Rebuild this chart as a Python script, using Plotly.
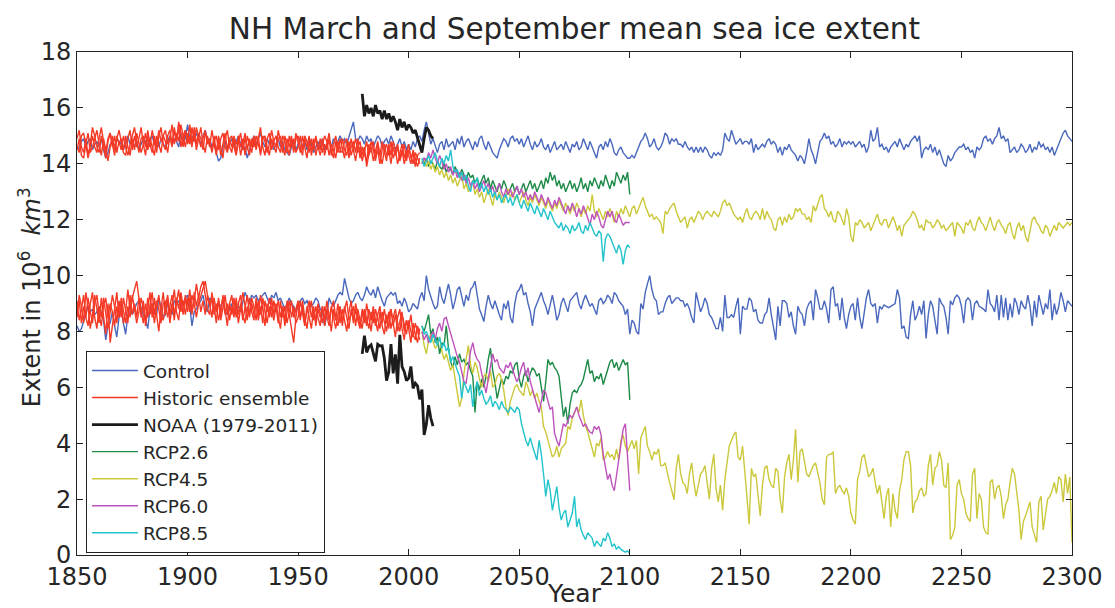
import plotly.graph_objects as go

# ---------------- data ----------------
control_start = 1850
control_march = [
 14.5,14.6,14.8,14.9,14.6,14.8,14.9,14.5,14.7,14.8,
 14.6,14.9,14.5,14.2,14.4,14.7,14.8,14.6,14.9,14.8,
 14.7,14.5,14.8,15.0,14.7,14.9,14.6,14.8,14.5,14.7,
 14.9,14.8,14.6,14.9,15.0,14.7,14.8,14.6,14.9,14.7,
 14.6,14.8,15.0,14.7,14.9,14.8,14.6,15.1,14.8,14.9,
 15.4,14.9,15.0,14.8,15.1,14.9,14.7,15.0,15.2,14.8,
 14.9,14.6,14.7,14.4,14.1,14.2,14.6,14.8,14.5,14.7,
 14.9,14.6,14.8,15.0,14.7,14.5,14.6,14.2,14.5,14.8,
 15.0,14.7,14.9,15.1,14.8,14.6,14.9,14.7,14.8,14.5,
 14.7,14.9,14.6,14.8,14.5,14.4,14.3,14.6,14.8,14.5,
 14.7,14.9,14.6,14.8,14.5,14.9,14.7,14.4,14.6,14.8,
 14.6,14.9,14.5,14.7,14.8,14.6,14.9,14.7,14.8,15.0,
 14.8,14.9,14.7,15.0,15.2,15.5,14.9,14.8,15.0,14.9,
 14.7,15.0,14.8,14.9,14.6,14.8,15.0,14.9,14.6,14.8,
 14.9,14.7,15.0,14.8,14.5,14.7,14.9,14.6,14.8,14.5,
 14.7,14.5,14.8,14.6,14.9,15.0,14.8,15.2,15.5,15.1,
 14.7,14.9,14.6,14.4,14.7,14.8,14.5,14.9,14.6,14.7,
 14.8,14.5,14.9,14.7,15.0,14.6,14.8,14.9,14.7,14.5,
 14.8,14.6,14.9,15.0,14.7,14.5,14.8,14.6,14.4,14.3,
 14.2,14.5,14.7,14.9,14.8,14.6,14.9,15.0,14.8,14.9,
 14.7,14.9,14.6,14.8,15.0,14.7,14.5,14.8,14.6,14.7,
 14.9,14.6,14.5,14.7,14.4,14.6,14.8,14.5,14.6,14.7,
 14.5,14.8,14.6,14.4,14.7,14.6,14.8,14.5,14.6,14.9,
 14.7,14.5,14.8,14.6,14.4,14.2,14.6,14.7,14.5,14.8,
 14.6,14.9,14.7,14.4,14.3,14.5,14.6,14.4,14.3,14.2,
 14.2,14.3,14.2,14.4,14.6,14.8,14.9,15.1,14.9,14.6,
 14.7,14.9,14.6,14.5,14.6,14.8,15.1,15.0,14.7,14.9,
 14.8,14.9,14.7,14.7,14.6,14.8,14.6,14.5,14.6,14.4,
 14.6,14.4,14.6,14.4,14.6,14.5,14.3,14.2,14.4,14.3,
 14.4,14.3,14.5,15.1,14.9,14.8,15.2,14.9,14.7,14.8,
 14.9,14.7,14.8,14.8,14.7,14.9,14.4,14.7,14.5,14.6,
 14.7,14.6,14.8,14.9,14.7,14.8,14.7,14.4,14.6,14.3,
 14.6,14.5,14.7,14.5,14.4,14.3,14.1,14.3,14.2,14.0,
 14.4,14.9,14.5,14.3,14.0,14.4,14.8,14.9,15.1,14.9,
 15.0,14.7,14.8,14.6,14.7,14.9,14.6,14.8,14.7,14.8,
 14.7,14.8,14.6,14.7,14.8,14.6,14.7,14.4,14.6,15.2,
 14.8,14.9,15.3,14.6,14.7,14.5,14.6,14.4,14.6,14.7,
 14.8,14.6,14.9,14.7,14.5,14.7,14.6,14.8,14.9,15.0,
 14.8,15.0,14.2,14.5,14.6,14.5,14.7,14.4,14.6,14.3,
 14.5,14.2,14.0,13.9,14.3,14.1,14.2,14.4,14.5,14.6,
 14.6,14.7,14.5,14.6,14.4,14.5,14.2,14.6,14.5,14.6,
 14.9,15.0,14.8,14.9,14.7,14.9,15.0,15.3,14.9,15.0,
 14.8,14.9,14.4,14.5,14.6,14.4,14.5,14.7,14.6,14.4,
 14.5,14.7,14.4,14.6,14.5,14.8,14.6,14.7,14.5,14.6,
 14.4,14.6,14.3,14.5,14.7,14.9,15.1,15.2,15.0,14.9,
 14.8]
control_september = [
 8.2,8.0,8.1,8.4,8.6,8.9,8.7,8.8,8.6,8.7,
 8.9,8.6,8.4,7.7,8.2,8.3,8.7,8.2,7.8,8.5,
 8.8,8.3,7.9,8.6,8.9,8.6,8.8,9.0,9.1,8.8,
 8.6,8.4,8.1,8.8,9.0,8.7,8.6,9.2,8.8,8.5,
 8.6,9.0,8.8,8.6,9.1,9.0,9.1,8.9,9.0,9.2,
 9.3,8.9,8.2,8.7,8.8,9.0,9.1,9.3,8.9,8.7,
 9.2,9.1,8.8,8.9,9.0,8.9,9.1,8.7,8.6,8.8,
 9.0,8.7,8.8,8.9,8.7,9.1,9.4,9.2,9.0,9.3,
 9.2,9.3,9.1,9.2,9.3,9.4,9.2,9.0,9.3,9.2,
 9.4,9.1,9.2,9.0,8.8,9.0,9.2,9.0,8.9,8.7,
 9.0,9.1,9.2,9.0,9.1,8.9,8.9,9.0,9.2,9.1,
 8.8,8.7,8.2,8.6,9.2,9.0,8.9,9.1,9.3,9.4,
 9.3,9.9,9.5,9.2,9.0,9.1,9.3,9.4,9.2,9.1,
 9.3,9.6,9.4,9.3,9.5,9.2,9.6,9.3,9.1,8.9,
 9.2,9.3,9.4,9.3,9.4,9.0,9.1,8.9,9.2,9.0,
 8.7,8.8,9.0,8.9,8.8,9.2,9.4,9.1,10.0,9.5,
 9.2,9.0,8.8,8.9,9.6,9.2,9.0,9.3,9.7,9.3,
 8.8,9.1,9.5,9.6,9.2,8.9,9.3,9.1,9.5,9.6,
 9.8,9.2,8.8,8.6,8.35,8.9,9.3,9.0,8.8,9.1,
 8.8,8.6,8.4,9.0,8.8,9.1,8.5,8.3,9.0,9.4,
 9.5,9.7,9.3,9.4,9.0,8.7,8.2,8.8,9.0,9.2,
 9.4,9.1,8.9,8.6,9.0,9.3,8.9,8.4,8.6,9.0,
 9.2,8.9,8.7,9.1,9.2,9.3,9.4,9.0,8.8,9.1,
 9.3,9.1,8.9,9.0,8.8,8.6,9.1,9.2,9.0,9.1,
 9.3,9.2,9.0,9.4,9.3,9.1,9.0,8.9,8.6,8.8,
 7.9,8.4,8.3,8.0,7.9,9.0,8.8,9.4,9.7,10.0,
 9.5,9.2,9.1,8.6,8.7,8.7,9.0,9.2,9.3,9.0,
 9.1,9.2,9.2,9.1,9.1,8.9,9.0,8.8,8.5,8.3,
 9.4,9.0,8.7,8.9,9.2,9.0,8.6,8.5,8.3,8.1,
 8.1,8.5,8.0,9.3,8.5,8.5,8.6,8.5,8.9,9.2,
 7.9,8.9,8.8,8.8,9.2,9.1,8.7,8.8,8.4,8.3,
 8.3,8.6,8.7,9.2,8.6,8.2,7.7,8.9,8.2,9.1,
 9.1,9.0,8.5,8.7,8.2,7.9,8.9,8.7,8.6,8.2,
 8.8,9.0,9.1,8.4,9.5,9.2,8.8,8.8,9.1,8.8,
 8.3,9.5,9.6,8.9,9.0,8.4,9.2,8.5,8.1,8.6,
 8.9,9.0,8.4,9.2,8.5,8.1,8.6,9.2,9.5,9.0,
 8.9,9.0,8.3,8.9,8.8,8.95,8.9,8.85,8.9,8.95,
 9.0,9.5,9.2,8.1,8.2,7.8,7.75,8.6,9.1,8.4,
 8.6,8.9,8.6,9.1,7.75,8.6,9.1,8.9,8.4,7.9,
 9.2,9.0,8.9,8.5,7.9,9.1,8.95,9.2,9.3,9.2,
 8.9,8.3,9.1,9.2,9.1,8.4,9.0,9.1,8.9,8.85,
 8.8,8.7,9.5,9.0,8.9,8.7,9.3,8.4,9.3,8.5,
 9.2,8.4,9.0,8.5,9.2,9.0,8.6,9.1,8.9,8.8,
 9.3,8.9,8.2,9.1,8.5,9.3,8.9,8.6,9.0,8.8,
 9.5,8.4,9.0,8.6,8.9,9.4,9.1,8.7,9.1,9.0,
 8.9]

hist_start = 1850
hist1_march = [
 14.9,15.2,14.6,14.4,14.9,14.3,14.7,15.3,15.0,14.6,
 14.4,15.0,14.6,14.2,14.8,15.1,14.7,14.3,14.9,15.2,
 14.8,14.4,14.3,14.9,15.2,14.5,15.0,14.6,14.9,15.3,
 14.7,14.3,15.0,14.6,15.2,14.8,14.4,15.0,15.3,14.7,
 14.5,15.0,15.2,14.7,15.3,14.8,15.5,15.1,14.6,15.2,
 14.8,15.4,14.7,15.1,14.5,14.9,15.3,14.7,14.4,15.0,
 14.6,15.2,14.8,14.3,15.0,14.6,14.2,14.9,15.2,14.6,
 14.4,15.0,14.7,14.9,14.3,14.7,15.1,14.5,14.9,14.6,
 15.0,14.5,14.9,15.3,14.6,14.3,14.9,15.1,14.5,14.8,
 14.6,15.2,14.8,14.4,15.0,14.6,14.3,14.9,14.5,15.1,
 14.8,14.4,15.0,14.6,14.2,14.8,14.5,14.9,14.3,14.7,
 14.5,14.9,14.3,14.7,15.1,14.5,14.2,14.8,14.4,14.9,
 14.6,14.2,14.8,14.4,14.9,14.5,14.1,14.6,14.8,14.3,
 14.6,13.9,14.4,14.8,14.5,14.1,14.7,14.3,14.8,14.4,
 14.1,14.7,14.3,14.8,14.5,14.0,14.4,14.7,14.2,14.5,
 14.3,14.0,14.5,14.2,13.9,14.2]
hist2_march = [
 14.6,14.4,15.0,15.1,14.7,14.2,14.6,15.0,14.6,14.4,
 14.9,15.3,14.8,14.4,14.9,15.1,14.6,15.0,14.4,14.8,
 14.5,15.0,14.6,14.3,14.7,15.0,15.3,14.8,14.4,14.9,
 15.0,14.6,15.2,14.7,14.4,15.0,14.6,15.2,14.8,15.0,
 15.2,14.7,14.9,15.4,14.7,15.1,14.8,15.4,15.0,14.6,
 15.1,14.7,15.3,14.8,15.3,15.0,14.6,14.9,15.2,14.7,
 14.9,14.4,14.8,15.0,14.5,14.9,15.1,14.6,14.4,14.9,
 15.0,14.6,14.3,14.8,15.1,14.5,14.9,14.6,14.3,14.9,
 14.6,15.0,14.7,14.4,15.0,14.8,14.4,14.7,15.2,14.8,
 15.0,14.6,14.4,15.0,14.8,14.4,15.0,14.6,14.9,14.4,
 14.6,15.0,14.5,14.9,14.6,15.0,14.3,14.7,14.9,14.5,
 14.9,14.4,14.7,14.5,14.9,14.3,14.7,15.0,14.5,14.4,
 14.9,14.5,14.3,14.8,14.3,14.6,14.9,14.4,14.6,14.1,
 14.5,14.8,14.3,14.6,14.1,14.5,14.8,14.3,14.0,14.5,
 14.7,14.3,14.8,14.2,14.5,14.7,14.2,14.5,14.0,14.4,
 14.7,14.2,14.4,13.9,14.3,14.4]
hist3_march = [
 14.5,14.9,14.3,14.2,14.7,15.1,14.4,14.6,14.9,15.2,
 14.7,14.3,14.9,14.5,14.1,14.6,15.0,14.5,15.0,14.7,
 14.9,14.5,15.0,14.6,14.3,14.9,14.5,15.1,14.7,14.4,
 14.7,15.1,14.5,14.9,14.6,14.3,15.0,14.7,14.4,15.0,
 14.8,14.4,15.0,14.6,15.2,14.8,15.3,14.6,15.0,15.2,
 14.7,15.0,14.6,15.3,14.7,15.1,14.9,14.5,15.1,14.9,
 14.7,14.5,15.0,14.4,14.9,14.3,14.7,15.1,14.5,14.9,
 14.6,14.9,14.4,15.0,14.6,14.9,14.3,15.0,14.7,14.4,
 14.9,14.6,15.0,14.3,14.9,15.0,14.6,14.3,14.9,14.6,
 14.4,14.9,15.0,14.6,14.3,14.9,14.6,15.0,14.4,14.9,
 15.0,14.6,14.3,15.0,14.8,14.4,14.9,14.5,15.0,14.6,
 14.3,14.7,15.0,14.8,14.3,14.7,14.5,14.2,14.8,14.5,
 14.4,14.8,14.9,14.2,14.6,14.8,14.4,14.9,14.2,14.6,
 14.3,14.1,14.7,14.4,14.8,14.2,14.5,14.0,14.5,14.7,
 14.3,14.5,14.0,14.6,14.3,14.6,14.1,14.4,14.7,14.1,
 14.5,14.3,14.0,14.4,14.2,14.0]
hist1_september = [
 8.5,9.3,8.9,8.3,9.4,8.9,8.1,8.6,9.3,8.8,
 8.3,9.2,8.6,7.9,9.0,7.6,8.2,8.9,9.4,8.5,
 9.0,8.3,8.7,9.5,8.8,9.2,9.5,9.8,9.2,8.5,
 9.1,8.2,8.8,9.4,8.5,9.2,8.6,8.0,8.8,9.4,
 8.6,9.2,8.3,9.0,9.5,8.7,8.4,9.2,8.6,9.3,
 8.9,9.5,8.7,9.1,9.7,9.2,9.6,9.8,9.3,8.8,
 8.6,9.4,8.9,8.3,9.2,8.6,9.3,8.8,8.2,9.0,
 9.3,8.6,9.0,8.3,8.9,9.4,8.9,8.4,9.2,8.7,
 8.4,9.2,8.6,9.3,8.8,8.2,9.0,8.5,9.2,8.6,
 9.0,8.5,8.1,8.9,8.4,9.1,8.6,8.0,7.6,8.5,
 9.0,8.4,9.1,8.5,8.1,8.8,9.1,8.4,8.9,8.5,
 8.2,8.9,8.4,9.1,8.5,8.0,8.8,8.4,9.0,8.3,
 8.8,8.4,8.0,8.7,9.1,8.3,8.8,8.4,8.1,8.7,
 8.3,9.0,8.4,8.0,8.7,8.2,8.6,8.9,8.2,7.9,
 8.6,8.1,8.8,8.2,7.8,8.5,8.8,8.1,7.7,8.4,
 8.1,7.6,8.3,7.9,7.6,8.1]
hist2_september = [
 9.1,8.4,8.8,9.3,8.5,8.2,9.0,9.4,8.5,8.1,
 8.9,8.5,9.2,8.6,8.1,8.7,9.3,8.9,8.3,9.1,
 8.5,9.2,8.8,8.3,9.3,8.6,9.0,8.5,9.2,8.8,
 8.3,9.0,8.5,8.9,9.4,8.6,9.1,8.8,8.3,9.0,
 9.1,8.5,8.9,9.3,8.6,9.0,9.5,8.7,9.1,8.6,
 9.2,8.7,9.3,9.0,8.5,9.0,9.3,9.6,9.8,9.3,
 9.0,8.5,9.2,8.7,9.1,8.4,8.8,9.3,8.6,9.0,
 8.6,9.2,8.5,9.0,9.3,8.6,8.3,8.9,8.5,9.2,
 8.9,8.4,9.1,8.6,9.2,8.8,8.3,8.9,8.5,9.1,
 8.7,9.1,8.5,8.9,8.2,8.7,9.1,8.5,8.9,8.3,
 8.5,9.1,8.7,8.2,8.9,8.5,8.1,8.8,8.4,9.0,
 8.7,8.3,8.9,8.5,8.2,8.8,9.1,8.5,8.2,8.8,
 8.4,8.9,8.5,8.1,8.8,8.4,9.0,8.6,8.2,8.8,
 8.6,8.2,8.8,8.4,8.9,8.4,8.0,8.7,8.3,8.8,
 8.3,8.7,8.1,8.5,8.8,8.3,8.0,8.6,8.2,7.9,
 8.4,8.0,7.8,8.3,8.0,7.7]
hist3_september = [
 8.7,9.1,8.3,8.9,8.5,9.2,8.7,8.3,9.0,9.3,
 8.6,8.2,8.9,9.2,8.5,9.0,8.7,8.2,8.9,8.5,
 9.2,8.7,8.3,8.9,8.5,9.3,8.8,8.3,8.7,9.2,
 8.8,8.4,9.2,8.6,9.0,8.3,8.9,9.3,8.6,8.4,
 8.9,9.3,8.6,9.0,8.4,9.2,8.8,9.4,8.9,9.1,
 8.7,9.2,8.6,9.4,8.9,9.3,8.7,9.1,8.6,9.3,
 8.9,9.2,8.6,9.0,8.4,8.8,9.2,8.6,9.0,8.4,
 8.9,8.5,9.2,8.6,9.0,8.4,8.9,9.3,8.6,9.0,
 8.6,9.0,8.4,8.9,8.3,9.1,8.7,9.2,8.8,8.4,
 8.9,8.3,9.1,8.5,8.9,8.3,8.7,9.1,8.5,8.8,
 9.1,8.5,8.9,8.3,8.7,9.1,8.5,8.9,8.2,8.8,
 8.5,8.9,8.2,8.8,8.4,8.9,8.5,8.1,8.6,8.9,
 8.2,8.8,9.1,8.4,8.6,8.9,8.2,8.8,8.4,8.1,
 8.8,8.4,8.1,8.7,8.3,8.8,8.4,8.1,8.7,8.3,
 8.0,8.6,8.8,8.2,8.6,8.0,8.4,8.7,8.0,8.4,
 8.1,8.6,7.9,7.7,8.2,7.9]

noaa_start = 1979
noaa_march = [16.5,15.7,16.1,15.8,16.0,15.7,16.1,15.8,15.9,15.6,
 15.9,15.6,15.8,15.5,15.7,15.5,15.2,15.6,15.3,15.5,
 15.2,15.4,15.3,15.1,15.2,14.9,14.6,14.4,14.9,15.3,
 15.2,15.0,14.9]
noaa_september = [7.2,7.85,7.25,7.45,7.52,7.17,6.93,7.54,7.48,7.49,
 7.04,6.24,6.55,7.55,6.5,7.18,6.13,7.88,6.74,6.56,
 6.24,6.32,6.75,5.96,6.15,6.05,5.57,5.92,4.3,4.68,
 5.36,4.9,4.61]

rcp_start = 2006
rcp26_march = [
 14.1,14.0,14.2,13.9,14.1,14.0,13.8,14.1,13.9,13.8,
 14.0,13.7,13.9,13.8,13.6,13.9,13.7,13.5,13.8,13.6,
 13.4,13.7,13.5,13.6,13.3,13.5,13.2,13.4,13.6,13.3,
 13.5,13.1,13.4,13.2,13.0,13.3,13.1,13.4,13.2,12.9,
 13.1,13.3,13.0,13.2,12.9,13.1,13.3,13.0,13.2,13.4,
 13.1,13.3,13.0,13.2,13.4,13.1,13.5,13.3,13.7,13.4,
 13.6,13.2,13.4,13.1,13.3,13.0,13.2,13.4,13.1,13.3,
 13.0,13.2,13.5,13.1,13.3,13.0,13.4,13.2,13.5,13.3,
 13.1,13.4,13.2,13.6,13.3,13.1,13.4,13.2,13.7,13.5,
 13.3,13.6,13.4,13.7,12.9]
rcp45_march = [
 14.0,14.2,13.9,14.1,13.8,14.0,13.7,13.9,13.6,13.8,
 13.5,13.7,13.4,13.6,13.3,13.5,13.2,13.4,13.6,13.1,
 13.3,13.0,13.2,13.4,12.9,13.1,12.8,13.0,12.6,12.9,
 13.1,12.8,12.5,12.9,12.7,13.0,12.8,12.6,12.9,13.1,
 12.8,13.0,12.7,12.9,12.6,12.8,13.0,12.7,12.5,12.8,
 12.6,12.9,12.7,12.5,12.8,12.6,12.4,12.7,12.5,12.3,
 12.6,12.4,12.7,12.5,12.3,12.6,12.4,12.2,12.5,12.3,
 12.6,12.4,12.1,12.4,12.2,12.5,12.3,12.9,12.3,12.1,
 12.4,12.2,12.0,12.3,12.1,12.4,12.2,11.9,12.3,12.1,
 12.4,12.2,12.5,12.3,12.1,
 12.4,12.5,12.2,12.4,12.6,12.8,12.5,12.3,12.1,12.2,
 12.0,12.1,12.0,11.9,11.5,12.3,12.2,12.4,12.5,12.6,
 12.3,12.1,11.9,12.0,12.1,11.7,12.0,12.1,11.9,12.1,
 12.3,12.2,12.0,12.2,12.3,12.2,12.1,12.3,12.2,12.1,
 12.3,12.6,12.7,12.5,12.6,12.4,12.2,12.1,12.0,12.1,
 11.9,12.2,12.4,12.1,12.0,12.2,12.3,12.2,12.0,12.4,
 12.0,12.3,12.1,12.0,11.7,11.6,12.0,12.1,11.8,12.1,
 11.9,12.2,12.0,12.1,12.4,12.3,12.4,12.2,12.2,12.0,
 12.1,11.9,12.5,12.3,12.6,12.8,12.9,12.4,12.3,12.1,
 12.3,12.0,11.9,12.3,12.2,12.0,11.8,12.4,12.1,11.4,
 11.2,11.9,11.8,12.0,11.9,11.7,11.8,11.9,11.6,11.8,
 12.0,12.2,11.9,11.8,12.0,12.0,11.7,11.9,12.1,11.9,
 11.6,11.8,11.4,11.8,11.9,12.0,12.1,12.3,12.2,12.0,
 11.7,11.8,11.6,12.0,11.9,11.9,11.7,11.8,12.0,11.9,
 11.7,11.8,11.6,11.7,11.8,11.9,11.4,11.9,11.8,11.7,
 11.5,11.9,11.8,12.0,11.7,11.6,11.9,12.1,11.9,11.8,
 11.6,11.9,12.1,11.8,11.6,11.9,12.0,11.8,11.7,11.5,
 11.8,11.9,11.5,11.3,11.7,11.9,11.6,11.8,11.4,11.2,
 11.6,12.0,12.1,11.9,11.8,11.6,11.5,11.8,11.7,11.4,
 11.6,11.8,11.6,11.9,11.8,11.7,11.8,11.9,11.8,11.9]
rcp60_march = [
 14.0,14.2,14.1,14.4,14.2,14.5,14.2,14.0,14.3,14.1,
 13.8,14.0,13.7,13.9,13.6,13.8,13.5,13.7,13.4,13.6,
 13.3,13.5,13.2,13.4,13.1,13.3,13.0,13.2,13.4,13.1,
 13.3,13.0,13.2,12.9,13.1,13.3,13.0,12.8,13.1,12.9,
 13.1,12.8,13.0,13.2,12.9,13.1,12.8,13.0,12.7,12.9,
 12.7,13.0,12.8,12.6,12.9,12.7,12.5,12.8,12.6,12.4,
 12.7,12.5,12.8,12.6,12.4,12.2,12.5,12.3,12.6,12.4,
 12.1,12.4,12.2,12.5,12.3,12.0,11.8,12.2,12.0,12.3,
 12.1,11.8,11.7,12.0,12.3,12.1,12.3,12.0,11.9,12.2,
 12.0,11.8,11.9,11.9,11.9]
rcp85_march = [
 14.2,13.9,14.1,14.3,14.0,14.2,14.4,14.1,13.9,14.2,
 14.0,14.3,14.1,14.5,13.9,13.7,13.8,13.5,13.7,13.4,
 13.6,13.2,13.0,13.4,13.3,13.5,13.1,13.3,13.0,13.2,
 12.9,13.1,12.8,13.0,12.7,12.9,12.6,12.8,12.9,12.6,
 12.8,12.5,12.7,12.9,12.6,12.4,12.7,12.5,12.3,12.6,
 12.4,12.2,12.5,12.3,12.1,12.4,12.2,12.0,12.3,12.1,
 11.9,11.8,11.7,11.9,11.6,11.8,11.7,11.5,11.8,11.6,
 11.7,11.9,11.6,11.5,11.8,11.6,11.9,11.7,11.5,11.4,
 11.6,11.5,10.5,11.3,11.5,11.4,11.2,11.0,10.8,11.1,
 10.9,10.4,10.9,11.1,11.0]
rcp26_september = [
 8.2,8.0,8.3,8.6,7.9,8.1,7.6,7.8,7.2,7.6,
 7.5,8.2,7.4,6.9,6.7,7.1,6.8,7.2,6.9,7.0,
 6.8,6.9,6.6,6.4,5.1,6.2,5.9,6.3,6.0,6.4,
 7.0,7.4,6.6,6.2,5.6,5.9,6.3,6.1,6.4,6.3,
 6.6,6.5,6.8,6.9,6.3,6.0,6.4,6.6,6.2,6.5,
 6.7,6.6,6.4,6.5,5.9,5.5,6.2,7.0,6.8,6.9,
 6.7,6.6,6.4,5.6,4.95,5.3,4.7,5.4,5.8,5.9,
 5.8,6.0,6.1,6.3,6.6,7.0,6.5,6.6,6.2,6.4,
 6.3,6.5,6.1,6.4,6.6,6.9,7.0,6.7,6.9,6.6,
 6.8,7.0,6.8,6.9,5.55]
rcp45_september = [
 8.0,7.5,7.2,7.7,7.9,7.6,7.4,7.5,7.8,7.3,
 7.0,7.2,6.9,6.6,6.8,6.2,5.8,5.3,5.6,6.5,
 7.0,7.5,6.8,6.5,6.9,6.7,6.3,6.0,6.4,6.5,
 6.2,6.6,6.0,6.1,6.4,6.5,6.3,5.9,5.3,5.0,
 5.5,5.8,6.0,6.1,5.9,5.8,5.7,6.2,6.0,5.7,
 5.9,5.6,5.8,5.5,5.3,4.6,4.4,4.1,3.8,3.5,
 3.6,3.9,3.5,3.8,3.9,4.0,4.6,4.5,4.9,5.1,
 5.3,5.1,5.55,5.0,4.6,4.4,4.1,3.8,3.5,4.0,
 3.9,4.2,3.4,3.5,3.7,3.5,3.6,3.4,3.8,3.4,
 4.1,4.3,3.9,3.7,3.9,
 4.1,3.8,4.1,2.9,4.2,4.4,4.6,3.9,3.7,3.4,
 3.7,3.6,3.8,3.2,3.2,3.3,2.9,2.6,2.3,1.97,
 3.1,3.6,2.9,2.6,2.5,2.2,2.9,3.3,2.6,2.1,
 2.5,2.9,3.0,3.2,2.6,2.0,3.1,3.6,2.4,1.9,
 2.5,1.6,2.7,3.3,3.9,4.1,4.3,4.4,3.5,3.4,
 3.9,3.0,2.0,1.1,3.1,2.8,2.9,2.1,1.4,2.5,
 3.1,3.2,2.7,2.5,2.4,3.1,3.0,2.0,1.5,2.8,
 3.3,3.6,2.7,3.4,4.5,2.6,3.7,3.8,3.3,2.9,
 2.8,3.0,3.2,3.3,3.0,2.6,2.0,1.8,3.5,3.6,
 3.6,3.7,2.2,2.4,2.5,2.3,2.2,2.4,2.1,1.5,
 1.25,1.1,2.7,3.0,3.5,3.6,3.2,2.8,2.9,3.1,
 2.6,2.2,2.5,1.8,1.3,2.1,2.4,1.0,2.2,1.6,
 1.3,2.3,2.7,3.4,3.7,3.7,3.2,1.5,1.9,2.0,
 2.3,2.4,2.1,2.2,3.2,3.6,2.5,3.1,3.2,3.7,
 3.4,2.5,2.4,3.3,0.55,0.7,1.0,2.5,2.7,2.2,
 2.0,1.5,1.3,1.2,2.9,3.1,1.3,2.2,2.0,1.0,
 0.8,0.75,2.6,2.7,2.0,2.4,2.5,2.1,1.3,1.8,
 2.0,2.6,3.1,2.9,2.3,1.6,0.55,1.2,1.4,1.7,
 1.9,1.0,0.75,0.45,1.9,2.1,0.9,1.4,2.0,2.1,
 2.3,2.6,2.2,2.8,2.7,1.9,2.9,2.2,2.8,0.45]
rcp60_september = [
 8.0,7.7,7.9,7.6,7.8,8.0,7.7,8.1,8.3,8.0,
 8.45,8.5,8.2,7.9,7.6,7.3,7.1,6.9,6.6,6.2,
 6.15,6.8,7.3,7.6,7.2,7.0,6.9,6.5,6.2,5.8,
 6.3,6.8,7.2,6.9,7.0,6.7,6.6,6.5,6.8,6.7,
 6.9,6.6,6.4,6.2,6.4,6.7,6.9,6.4,6.7,6.2,
 5.9,5.7,5.4,5.1,5.5,5.9,5.8,5.5,5.2,5.3,
 4.35,4.1,3.9,4.3,4.7,4.6,4.8,5.0,4.9,5.1,
 5.3,5.0,4.8,4.6,4.7,4.5,4.4,4.35,4.6,4.5,
 4.6,4.3,3.6,3.2,2.7,2.9,2.5,2.3,2.9,3.4,
 4.0,4.5,4.7,3.5,2.3]
rcp85_september = [
 8.2,7.9,8.0,7.8,7.6,7.9,7.7,7.5,7.8,7.4,
 7.6,7.3,7.45,6.9,7.1,6.8,6.6,6.4,5.6,6.2,
 6.0,5.8,6.1,5.3,5.9,6.2,5.7,5.9,5.6,5.4,
 5.5,5.7,5.3,5.5,5.4,5.2,5.5,5.3,5.2,5.1,
 5.3,5.2,5.1,5.3,5.2,4.7,4.35,4.1,3.9,4.2,
 3.9,3.6,3.4,4.1,3.6,2.9,2.1,2.7,2.3,1.6,
 2.0,2.45,1.7,1.25,1.5,1.6,1.0,1.3,1.5,2.1,
 1.0,1.3,0.9,0.7,0.55,0.8,0.7,0.6,0.3,0.5,
 0.4,0.3,0.6,0.5,0.8,0.6,0.3,0.4,0.2,0.3,
 0.2,0.15,0.1,0.15,0.05]

series_names = ["Control", "Historic ensemble", "NOAA (1979-2011)",
                "RCP2.6", "RCP4.5", "RCP6.0", "RCP8.5"]
x_ticks = [1850, 1900, 1950, 2000, 2050, 2100, 2150, 2200, 2250, 2300]
y_ticks = [0, 2, 4, 6, 8, 10, 12, 14, 16, 18]

# ---------------- figure ----------------
FONT = "DejaVu Sans"
TXT = "#262626"
colors = {
    "Control": "#4a68bd",
    "Historic ensemble": "#f43a26",
    "NOAA (1979-2011)": "#1c1c1c",
    "RCP2.6": "#1d8a48",
    "RCP4.5": "#cbc83c",
    "RCP6.0": "#bf52bc",
    "RCP8.5": "#22c3cb",
}


def join(start, *series):
    xs, ys = [], []
    for s in series:
        if xs:
            xs.append(None)
            ys.append(None)
        xs.extend(range(start, start + len(s)))
        ys.extend(s)
    return xs, ys


groups = [
    ("Control", control_start, [control_march, control_september], 1.4),
    ("Historic ensemble", hist_start,
     [hist1_march, hist2_march, hist3_march,
      hist1_september, hist2_september, hist3_september], 1.4),
    ("NOAA (1979-2011)", noaa_start, [noaa_march, noaa_september], 2.8),
    ("RCP2.6", rcp_start, [rcp26_march, rcp26_september], 1.4),
    ("RCP4.5", rcp_start, [rcp45_march, rcp45_september], 1.4),
    ("RCP6.0", rcp_start, [rcp60_march, rcp60_september], 1.4),
    ("RCP8.5", rcp_start, [rcp85_march, rcp85_september], 1.4),
]

fig = go.Figure()
for name, start, series, width in groups:
    xs, ys = join(start, *series)
    fig.add_trace(go.Scatter(
        x=xs, y=ys, mode="lines", name=name,
        line=dict(color=colors[name], width=width),
        connectgaps=False, hoverinfo="skip"))

axis_common = dict(
    showgrid=False, zeroline=False, showline=True, linecolor="#222222",
    linewidth=1, mirror="ticks", ticks="inside", ticklen=6,
    tickcolor="#222222", tickwidth=1,
    tickfont=dict(family=FONT, size=24, color=TXT),
)
fig.update_xaxes(range=[1850, 2300], tickvals=x_ticks,
                 ticktext=[str(v) for v in x_ticks], **axis_common)
fig.update_yaxes(range=[0, 18], tickvals=y_ticks,
                 ticktext=[str(v) for v in y_ticks], **axis_common)

fig.update_layout(
    width=1115, height=608,
    margin=dict(l=77, r=40, t=52, b=53),
    paper_bgcolor="white", plot_bgcolor="white",
    font=dict(family=FONT, color=TXT),
    title=dict(text="NH March and September mean sea ice extent",
               x=0.5, xref="paper", xanchor="center",
               y=0.953, yref="container", yanchor="middle",
               font=dict(family=FONT, size=29.5, color=TXT)),
    showlegend=True,
    legend=dict(x=0.009, y=0.2048, xanchor="left", yanchor="middle",
                bgcolor="white", bordercolor="#222222", borderwidth=1,
                font=dict(family=FONT, size=18.5, color=TXT),
                tracegroupgap=0, itemwidth=46),
    annotations=[
        dict(text="Year", xref="paper", yref="paper", x=0.5, y=-0.0775,
             xanchor="center", yanchor="middle", showarrow=False,
             font=dict(family=FONT, size=25, color=TXT)),
        dict(text="Extent in 10<sup>6</sup>  <i>km</i><sup>3</sup>",
             xref="paper", yref="paper", x=-0.047, y=0.513,
             xanchor="center", yanchor="middle", textangle=-90,
             showarrow=False,
             font=dict(family=FONT, size=24, color=TXT)),
    ],
)

fig.write_html("out.html")
